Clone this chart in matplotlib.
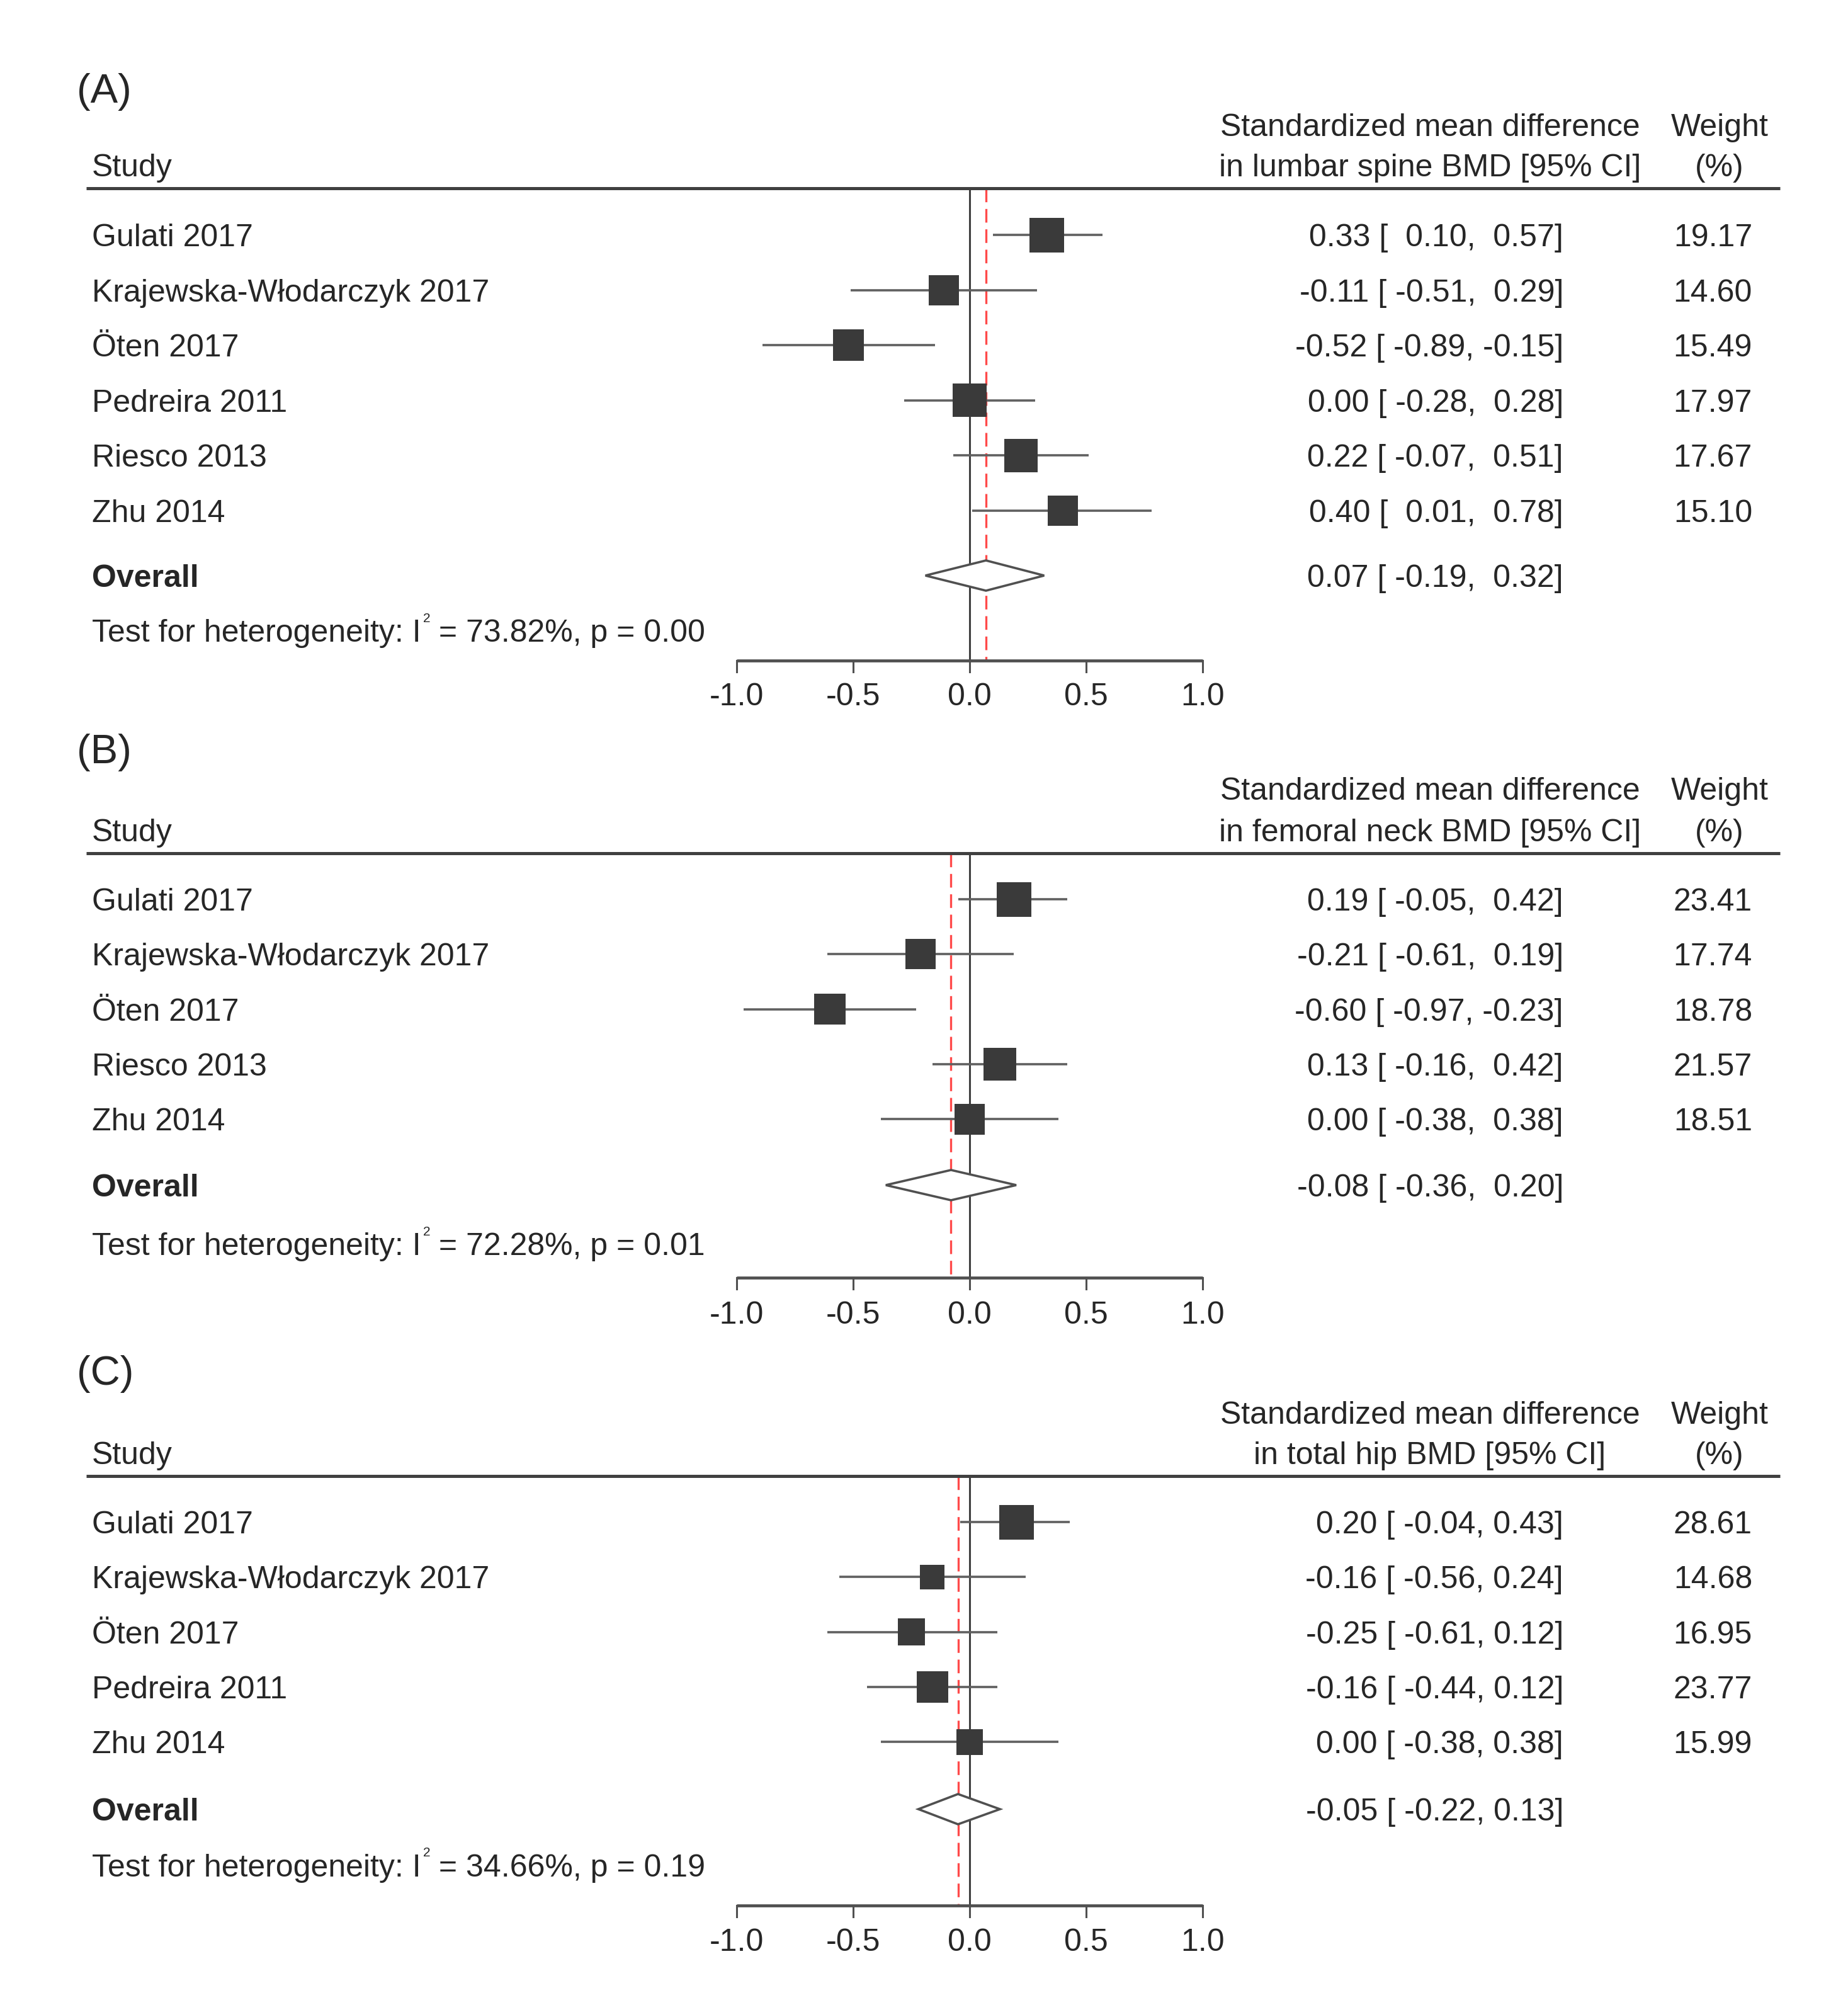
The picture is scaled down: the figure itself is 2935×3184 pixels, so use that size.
import numpy as np
import matplotlib
matplotlib.use("Agg")
import matplotlib.pyplot as plt
from matplotlib import transforms
from matplotlib.patches import Rectangle, Polygon

plt.rcParams['font.family'] = ['Liberation Sans', 'DejaVu Sans']

W, H = 2935, 3184

# ---- data ----
# (A) lumbar spine BMD
a_study = ["Gulati 2017", "Krajewska-Włodarczyk 2017", "Öten 2017",
           "Pedreira 2011", "Riesco 2013", "Zhu 2014"]
a_est = [0.33, -0.11, -0.52, 0.00, 0.22, 0.40]
a_lo = [0.10, -0.51, -0.89, -0.28, -0.07, 0.01]
a_hi = [0.57, 0.29, -0.15, 0.28, 0.51, 0.78]
a_wt = [19.17, 14.60, 15.49, 17.97, 17.67, 15.10]
a_overall = [0.07, -0.19, 0.32]
a_het = [73.82, 0.00]

# (B) femoral neck BMD
b_study = ["Gulati 2017", "Krajewska-Włodarczyk 2017", "Öten 2017",
           "Riesco 2013", "Zhu 2014"]
b_est = [0.19, -0.21, -0.60, 0.13, 0.00]
b_lo = [-0.05, -0.61, -0.97, -0.16, -0.38]
b_hi = [0.42, 0.19, -0.23, 0.42, 0.38]
b_wt = [23.41, 17.74, 18.78, 21.57, 18.51]
b_overall = [-0.08, -0.36, 0.20]
b_het = [72.28, 0.01]

# (C) total hip BMD
c_study = ["Gulati 2017", "Krajewska-Włodarczyk 2017", "Öten 2017",
           "Pedreira 2011", "Zhu 2014"]
c_est = [0.20, -0.16, -0.25, -0.16, 0.00]
c_lo = [-0.04, -0.56, -0.61, -0.44, -0.38]
c_hi = [0.43, 0.24, 0.12, 0.12, 0.38]
c_wt = [28.61, 14.68, 16.95, 23.77, 15.99]
c_overall = [-0.05, -0.22, 0.13]
c_het = [34.66, 0.19]

ticks = [-1.0, -0.5, 0.0, 0.5, 1.0]

panels = [
    dict(tag="(A)", site="lumbar spine", study=a_study, est=a_est, lo=a_lo, hi=a_hi,
         wt=a_wt, overall=a_overall, het=a_het,
         span=(0, 1150), label=141, head=(198, 262), rule=299, row0=373, step=87.6,
         ov=914, hety=1001, axis=1049, tlab=1107),
    dict(tag="(B)", site="femoral neck", study=b_study, est=b_est, lo=b_lo, hi=b_hi,
         wt=b_wt, overall=b_overall, het=b_het,
         span=(1150, 2140), label=1190, head=(1252, 1318), rule=1355, row0=1428, step=87.3,
         ov=1882, hety=1975, axis=2029, tlab=2089),
    dict(tag="(C)", site="total hip", study=c_study, est=c_est, lo=c_lo, hi=c_hi,
         wt=c_wt, overall=c_overall, het=c_het,
         span=(2140, 3184), label=2177, head=(2243, 2307), rule=2344, row0=2417, step=87.3,
         ov=2873, hety=2962, axis=3026, tlab=3085),
]

# horizontal mapping: effect 0 at pixel 1540, 370 px per unit
X0, PPU = 1540, 370.0
FS = 36
DY = 5  # nudge text down so glyphs sit centred on the rows
TXT = '#262626'
DARK = '#3a3a3a'
GREY = '#606060'


def ci_strings(est, lo, hi):
    e = ["%.2f" % v for v in est]
    l = ["%.2f" % v for v in lo]
    h = ["%.2f" % v for v in hi]
    we, wl, wh = max(map(len, e)), max(map(len, l)), max(map(len, h))
    return ["%s [ %s, %s]" % (a.rjust(we), b.rjust(wl), c.rjust(wh))
            for a, b, c in zip(e, l, h)]


fig = plt.figure(figsize=(W / 100, H / 100), dpi=100)
renderer = fig.canvas.get_renderer()

for p in panels:
    top, bot = p['span']
    ax = fig.add_axes([0, 1 - bot / H, 1, (bot - top) / H])
    ax.set_xlim(-X0 / PPU, (W - X0) / PPU)
    ax.set_ylim(bot, top)
    ax.axis('off')
    tf = transforms.blended_transform_factory(fig.transFigure, ax.transData)

    def txt(xpx, y, s, ha='left', **kw):
        return ax.text(xpx / W, y + DY, s, transform=tf, fontsize=kw.pop('fontsize', FS),
                       color=TXT, va='center', ha=ha, **kw)

    n = len(p['study'])
    ys = [p['row0'] + i * p['step'] for i in range(n)]

    # panel tag and headers
    txt(122, p['label'], p['tag'], fontsize=47)
    txt(146, p['head'][1], "Study")
    txt(2271, p['head'][0], "Standardized mean difference", ha='center')
    txt(2271, p['head'][1], "in %s BMD [95%% CI]" % p['site'], ha='center')
    txt(2731, p['head'][0], "Weight", ha='center')
    txt(2731, p['head'][1], "(%)", ha='center')
    ax.plot([137 / W, 2827 / W], [p['rule'], p['rule']], transform=tf,
            color='#404040', lw=3.6, solid_capstyle='butt', clip_on=False)

    # reference lines
    ax.plot([0, 0], [p['rule'], p['axis']], color='#404040', lw=2.2, zorder=1)
    ov_est, ov_lo, ov_hi = p['overall']
    ax.plot([ov_est, ov_est], [p['rule'], p['axis']], color='#ff4a4a', lw=2.4,
            linestyle=(0, (6.5, 3.2)), zorder=1)

    # studies
    wmax = max(p['wt'])
    labels = ci_strings(p['est'] + [ov_est], p['lo'] + [ov_lo], p['hi'] + [ov_hi])
    for i in range(n):
        y = ys[i]
        ax.plot([p['lo'][i], p['hi'][i]], [y, y], color=GREY, lw=2.6, zorder=2,
                solid_capstyle='butt')
        s = 55 * np.sqrt(p['wt'][i] / wmax)
        ax.add_patch(Rectangle((p['est'][i] - s / 2 / PPU, y - s / 2), s / PPU, s,
                               facecolor=DARK, edgecolor='none', zorder=3))
        txt(146, y, p['study'][i])
        txt(2483, y, labels[i], ha='right')
        txt(2783, y, "%.2f" % p['wt'][i], ha='right')

    # overall diamond
    yo = p['ov']
    dh = 24
    ax.add_patch(Polygon([[ov_lo, yo], [ov_est, yo - dh], [ov_hi, yo], [ov_est, yo + dh]],
                         closed=True, facecolor='white', edgecolor='#505050',
                         lw=2.6, zorder=4))
    txt(146, yo, "Overall", fontweight='bold')
    txt(2483, yo, labels[-1], ha='right')

    # heterogeneity line with a small raised "2"
    t1 = txt(146, p['hety'], "Test for heterogeneity: I")
    x_end = t1.get_window_extent(renderer=renderer).x1
    txt(x_end + 3, p['hety'] - 24, "2", fontsize=15)
    txt(x_end + 14, p['hety'], " = %.2f%%, p = %.2f" % (p['het'][0], p['het'][1]))

    # x axis
    ya = p['axis']
    ax.plot([ticks[0], ticks[-1]], [ya, ya], color='#505050', lw=3.4,
            solid_capstyle='butt', zorder=2)
    for t in ticks:
        ax.plot([t, t], [ya, ya + 18], color='#505050', lw=2.2, zorder=2)
        ax.text(t, p['tlab'], "%.1f" % t, fontsize=FS, color=TXT,
                va='center', ha='center')

fig.savefig("out.png", dpi=100, facecolor='white')
